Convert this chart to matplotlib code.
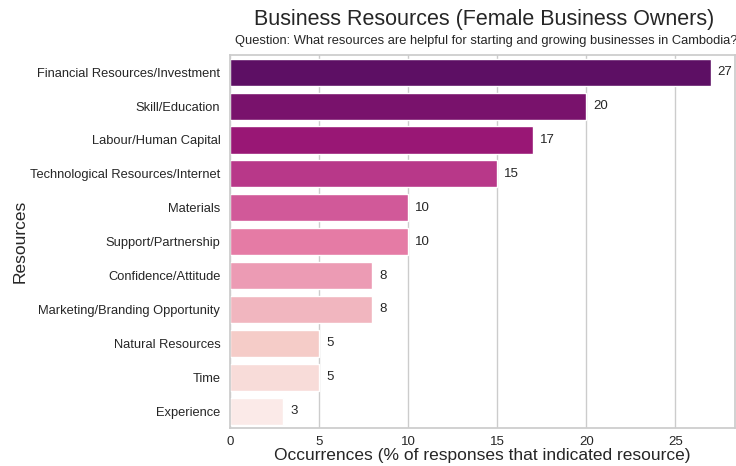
import matplotlib
matplotlib.use("Agg")
import matplotlib.pyplot as plt
import seaborn as sns
import pandas as pd

# survey results: share of responses naming each resource
resources = [
    "Financial Resources/Investment",
    "Skill/Education",
    "Labour/Human Capital",
    "Technological Resources/Internet",
    "Materials",
    "Support/Partnership",
    "Confidence/Attitude",
    "Marketing/Branding Opportunity",
    "Natural Resources",
    "Time",
    "Experience",
]
occurrences = [27, 20, 17, 15, 10, 10, 8, 8, 5, 5, 3]

df = pd.DataFrame({"Resources": resources, "Occurrences": occurrences})

sns.set_theme(style="whitegrid")
plt.rcParams["font.family"] = ["Liberation Sans", "DejaVu Sans"]

fig = plt.figure(figsize=(7.36, 4.66), dpi=100)
ax = fig.add_axes([0.3125, 0.0815, 0.686, 0.80])

sns.barplot(data=df, x="Occurrences", y="Resources", hue="Resources",
            palette="RdPu_r", legend=False, ax=ax)

for container in ax.containers:
    ax.bar_label(container, padding=5, fontsize=9.5, color="#262626")

ax.set_xlim(0, max(occurrences) * 1.05)
ax.tick_params(axis="y", labelsize=9.3, pad=1)
ax.tick_params(axis="x", labelsize=9.5, pad=0)
ax.set_xlabel("Occurrences (% of responses that indicated resource)", fontsize=12.5, labelpad=0)
ax.set_ylabel("Resources", fontsize=12.5, labelpad=2)

fig.text(0.658, 0.958, "Business Resources (Female Business Owners)",
         ha="center", va="center", fontsize=15.5, color="#262626")
fig.text(0.661, 0.912, "Question: What resources are helpful for starting and growing businesses in Cambodia?",
         ha="center", va="center", fontsize=9.3, color="#262626")

fig.savefig("out.png", dpi=100)
